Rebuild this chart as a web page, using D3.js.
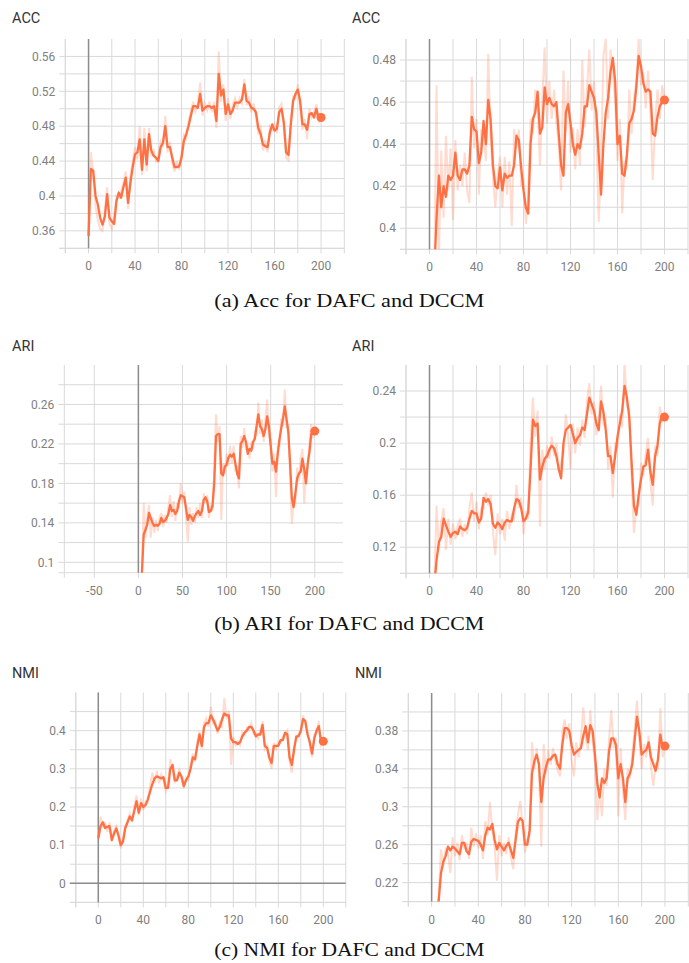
<!DOCTYPE html>
<html>
<head>
<meta charset="utf-8">
<script src="https://cdn.jsdelivr.net/npm/d3@7"></script>
<style>
  body { margin: 0; background: #fff; }
</style>
</head>
<body>
<script>
// epochs sampled every 2 steps, 0..200
var epochs = d3.range(0, 201, 2);

var epochTicks = [0, 40, 80, 120, 160, 200];
var ariLeftXTicks = [-50, 0, 50, 100, 150, 200];
var accLeftYTicks = [0.36, 0.4, 0.44, 0.48, 0.52, 0.56];
var accRightYTicks = [0.4, 0.42, 0.44, 0.46, 0.48];
var ariLeftYTicks = [0.1, 0.14, 0.18, 0.22, 0.26];
var ariRightYTicks = [0.12, 0.16, 0.2, 0.24];
var nmiLeftYTicks = [0, 0.1, 0.2, 0.3, 0.4];
var nmiRightYTicks = [0.22, 0.26, 0.3, 0.34, 0.38];

var captions = ["(a) Acc for DAFC and DCCM", "(b) ARI for DAFC and DCCM", "(c) NMI for DAFC and DCCM"];

// ACC, DAFC (smoothed / raw)
var accDafc = [0.354,0.431,0.429,0.400,0.390,0.375,0.367,0.376,0.402,0.375,0.371,0.368,0.394,0.404,0.398,0.410,0.421,0.392,0.415,0.433,
  0.448,0.450,0.465,0.430,0.465,0.436,0.471,0.452,0.446,0.444,0.440,0.456,0.461,0.480,0.456,0.456,0.444,0.433,0.433,0.434,
  0.444,0.463,0.471,0.480,0.492,0.503,0.503,0.501,0.517,0.498,0.501,0.503,0.503,0.501,0.503,0.486,0.540,0.515,0.522,0.494,
  0.505,0.494,0.498,0.507,0.507,0.507,0.511,0.528,0.509,0.507,0.501,0.500,0.496,0.478,0.471,0.459,0.457,0.456,0.473,0.482,
  0.475,0.477,0.496,0.500,0.484,0.450,0.447,0.482,0.509,0.517,0.522,0.509,0.482,0.482,0.476,0.494,0.495,0.490,0.500,0.488,0.490];
var accDafcRaw = [0.354,0.450,0.425,0.388,0.372,0.362,0.360,0.383,0.410,0.368,0.362,0.376,0.400,0.398,0.405,0.415,0.428,0.385,0.424,0.440,
  0.456,0.442,0.480,0.424,0.478,0.428,0.478,0.446,0.452,0.440,0.446,0.462,0.456,0.492,0.450,0.462,0.438,0.428,0.440,0.430,
  0.450,0.470,0.466,0.486,0.498,0.508,0.497,0.506,0.530,0.492,0.506,0.498,0.508,0.496,0.508,0.478,0.566,0.508,0.528,0.486,
  0.512,0.488,0.504,0.512,0.502,0.512,0.506,0.534,0.504,0.514,0.496,0.506,0.490,0.472,0.478,0.452,0.464,0.450,0.480,0.476,
  0.482,0.472,0.502,0.506,0.478,0.444,0.441,0.488,0.514,0.512,0.528,0.503,0.476,0.488,0.465,0.500,0.490,0.496,0.505,0.484,0.492];

// ACC, DCCM
var accDccm = [0.360,0.365,0.378,0.405,0.425,0.410,0.420,0.415,0.425,0.423,0.425,0.436,0.425,0.423,0.428,0.428,0.426,0.430,0.453,0.447,
  0.446,0.431,0.436,0.451,0.440,0.461,0.452,0.430,0.420,0.419,0.429,0.418,0.426,0.424,0.425,0.425,0.430,0.444,0.442,0.429,
  0.418,0.410,0.407,0.440,0.452,0.455,0.465,0.445,0.448,0.467,0.459,0.462,0.459,0.458,0.460,0.445,0.430,0.425,0.455,0.459,
  0.450,0.440,0.435,0.440,0.438,0.445,0.458,0.458,0.468,0.465,0.462,0.455,0.435,0.416,0.440,0.455,0.462,0.474,0.481,0.470,
  0.440,0.444,0.426,0.425,0.435,0.450,0.452,0.456,0.467,0.482,0.477,0.469,0.465,0.466,0.465,0.445,0.444,0.453,0.458,0.460,0.461];
var accDccmRaw = [0.355,0.360,0.370,0.468,0.385,0.437,0.405,0.444,0.418,0.438,0.404,0.442,0.418,0.430,0.420,0.436,0.418,0.412,0.472,0.438,
  0.452,0.416,0.447,0.444,0.432,0.483,0.444,0.424,0.410,0.425,0.434,0.410,0.434,0.416,0.432,0.401,0.447,0.438,0.447,0.420,
  0.424,0.402,0.414,0.452,0.445,0.466,0.458,0.430,0.462,0.486,0.450,0.470,0.452,0.466,0.450,0.440,0.418,0.475,0.446,0.470,
  0.436,0.448,0.428,0.447,0.430,0.480,0.448,0.466,0.485,0.456,0.470,0.445,0.403,0.430,0.482,0.490,0.452,0.485,0.475,0.460,
  0.432,0.452,0.407,0.432,0.428,0.466,0.445,0.462,0.470,0.490,0.468,0.474,0.457,0.475,0.455,0.423,0.450,0.466,0.452,0.468,0.461];

// ARI, DAFC
var ariDafc = [0.070,0.080,0.089,0.128,0.133,0.138,0.150,0.145,0.140,0.137,0.138,0.137,0.139,0.145,0.141,0.142,0.145,0.149,0.158,0.152,
  0.153,0.149,0.152,0.162,0.168,0.167,0.166,0.155,0.143,0.148,0.146,0.142,0.147,0.150,0.152,0.148,0.152,0.163,0.166,0.162,
  0.151,0.152,0.157,0.180,0.228,0.230,0.230,0.190,0.188,0.197,0.199,0.206,0.209,0.207,0.210,0.200,0.190,0.185,0.220,0.223,
  0.228,0.222,0.210,0.215,0.213,0.222,0.225,0.238,0.250,0.238,0.235,0.228,0.235,0.248,0.238,0.218,0.200,0.202,0.192,0.210,
  0.225,0.236,0.246,0.258,0.245,0.232,0.200,0.165,0.156,0.170,0.185,0.190,0.192,0.205,0.195,0.180,0.200,0.212,0.230,0.232,0.233];
var ariDafcRaw = [0.070,0.080,0.090,0.160,0.125,0.146,0.158,0.125,0.146,0.130,0.143,0.132,0.145,0.150,0.136,0.148,0.140,0.156,0.168,0.146,
  0.162,0.142,0.160,0.155,0.180,0.160,0.172,0.148,0.121,0.156,0.138,0.150,0.140,0.156,0.145,0.160,0.145,0.170,0.160,0.168,
  0.145,0.158,0.152,0.195,0.250,0.222,0.238,0.143,0.200,0.190,0.210,0.198,0.218,0.200,0.218,0.192,0.198,0.175,0.228,0.216,
  0.236,0.214,0.218,0.205,0.222,0.215,0.232,0.230,0.262,0.230,0.245,0.222,0.244,0.265,0.228,0.225,0.192,0.210,0.166,0.218,
  0.218,0.246,0.238,0.275,0.236,0.240,0.188,0.139,0.165,0.162,0.196,0.182,0.205,0.215,0.160,0.190,0.196,0.222,0.240,0.226,0.233];

// ARI, DCCM
var ariDccm = [0.060,0.070,0.090,0.110,0.124,0.128,0.142,0.137,0.132,0.128,0.131,0.132,0.130,0.136,0.134,0.133,0.135,0.142,0.148,0.146,
  0.146,0.139,0.142,0.158,0.155,0.157,0.153,0.138,0.135,0.139,0.137,0.134,0.139,0.141,0.140,0.140,0.150,0.157,0.156,0.150,
  0.140,0.142,0.147,0.180,0.218,0.213,0.215,0.172,0.182,0.188,0.190,0.195,0.198,0.196,0.190,0.180,0.173,0.200,0.210,0.212,
  0.214,0.207,0.200,0.204,0.206,0.212,0.210,0.222,0.235,0.230,0.225,0.215,0.210,0.232,0.224,0.210,0.190,0.190,0.177,0.190,
  0.205,0.215,0.225,0.244,0.235,0.220,0.185,0.152,0.145,0.160,0.172,0.182,0.183,0.195,0.178,0.168,0.190,0.198,0.215,0.222,0.220];
var ariDccmRaw = [0.060,0.070,0.090,0.152,0.118,0.140,0.150,0.118,0.142,0.122,0.138,0.126,0.137,0.142,0.128,0.138,0.130,0.150,0.162,0.140,
  0.155,0.134,0.150,0.150,0.162,0.152,0.160,0.132,0.114,0.146,0.130,0.142,0.125,0.148,0.134,0.145,0.142,0.168,0.150,0.158,
  0.130,0.148,0.142,0.200,0.235,0.205,0.225,0.136,0.195,0.180,0.198,0.188,0.205,0.190,0.200,0.178,0.185,0.192,0.222,0.205,
  0.180,0.215,0.192,0.212,0.198,0.218,0.204,0.232,0.246,0.222,0.232,0.206,0.218,0.244,0.215,0.218,0.180,0.198,0.158,0.200,
  0.196,0.222,0.212,0.262,0.228,0.226,0.172,0.131,0.150,0.152,0.185,0.175,0.192,0.204,0.170,0.152,0.198,0.190,0.228,0.216,0.222];

// NMI, DAFC
var nmiDafc = [0.118,0.150,0.160,0.145,0.148,0.150,0.113,0.130,0.144,0.125,0.100,0.110,0.145,0.160,0.175,0.165,0.190,0.215,0.185,0.210,
  0.200,0.205,0.220,0.240,0.260,0.275,0.280,0.278,0.275,0.278,0.250,0.250,0.300,0.310,0.270,0.270,0.290,0.280,0.255,0.270,
  0.280,0.300,0.330,0.325,0.360,0.390,0.360,0.410,0.420,0.420,0.440,0.430,0.415,0.400,0.410,0.430,0.445,0.440,0.440,0.380,
  0.370,0.370,0.365,0.370,0.385,0.395,0.400,0.410,0.410,0.400,0.385,0.390,0.390,0.415,0.360,0.355,0.330,0.315,0.360,0.360,
  0.360,0.375,0.375,0.395,0.390,0.330,0.310,0.350,0.385,0.385,0.400,0.430,0.425,0.390,0.370,0.340,0.380,0.400,0.412,0.370,0.372];
var nmiDafcRaw = [0.115,0.175,0.150,0.158,0.135,0.160,0.110,0.138,0.150,0.118,0.092,0.120,0.150,0.165,0.182,0.160,0.200,0.230,0.178,0.222,
  0.192,0.215,0.212,0.255,0.290,0.262,0.295,0.262,0.285,0.268,0.242,0.258,0.325,0.302,0.262,0.282,0.298,0.272,0.248,0.278,
  0.272,0.310,0.340,0.318,0.372,0.398,0.352,0.420,0.432,0.410,0.463,0.420,0.425,0.392,0.420,0.410,0.485,0.430,0.452,0.310,
  0.385,0.362,0.372,0.362,0.395,0.388,0.408,0.402,0.420,0.392,0.392,0.380,0.400,0.425,0.352,0.362,0.322,0.300,0.368,0.352,
  0.370,0.368,0.385,0.388,0.400,0.320,0.290,0.358,0.378,0.392,0.395,0.440,0.418,0.398,0.362,0.330,0.388,0.395,0.425,0.362,0.375];

// NMI, DCCM
var nmiDccm = [0.170,0.180,0.190,0.200,0.230,0.242,0.248,0.258,0.254,0.258,0.256,0.253,0.250,0.262,0.262,0.253,0.250,0.263,0.266,0.265,
  0.264,0.260,0.254,0.270,0.278,0.276,0.282,0.265,0.255,0.262,0.258,0.254,0.259,0.262,0.254,0.246,0.265,0.284,0.288,0.285,
  0.260,0.260,0.275,0.335,0.348,0.355,0.345,0.305,0.330,0.342,0.350,0.350,0.354,0.355,0.345,0.340,0.365,0.383,0.383,0.380,
  0.365,0.355,0.358,0.360,0.362,0.375,0.385,0.368,0.386,0.380,0.355,0.325,0.310,0.330,0.325,0.330,0.358,0.372,0.372,0.365,
  0.330,0.345,0.330,0.305,0.330,0.335,0.345,0.370,0.395,0.380,0.355,0.358,0.360,0.368,0.352,0.345,0.338,0.350,0.376,0.362,0.364];
var nmiDccmRaw = [0.170,0.180,0.190,0.205,0.255,0.238,0.255,0.252,0.230,0.268,0.248,0.262,0.244,0.270,0.255,0.262,0.245,0.278,0.258,0.272,
  0.256,0.270,0.245,0.285,0.270,0.305,0.275,0.258,0.222,0.270,0.248,0.262,0.250,0.268,0.246,0.234,0.275,0.292,0.306,0.280,
  0.252,0.266,0.270,0.368,0.340,0.362,0.340,0.258,0.366,0.335,0.360,0.344,0.362,0.348,0.338,0.332,0.380,0.392,0.372,0.388,
  0.348,0.332,0.368,0.352,0.372,0.405,0.372,0.360,0.402,0.370,0.345,0.286,0.318,0.290,0.340,0.322,0.370,0.402,0.362,0.372,
  0.290,0.362,0.318,0.286,0.340,0.330,0.356,0.380,0.412,0.372,0.340,0.366,0.352,0.375,0.342,0.322,0.345,0.342,0.404,0.352,0.366];

var W = 689, H = 963;
var orange = "#ff7043";
var gridColor = "#d9d9d9";
var zeroColor = "#8c8c8c";
var tickFont = "Roboto, 'Open Sans', sans-serif";

// grid values every `step` between lo and hi (inclusive)
function steps(lo, hi, step) {
  var out = [];
  for (var v = lo; v <= hi + step / 1000; v += step) out.push(Math.round(v * 1000) / 1000);
  return out;
}

var panels = [
  {title: "ACC", tx: 12, ty: 23, l: 65.3, r: 344.3, t: 39, b: 248.3,
   xDom: [-20, 220], yDom: [0.34, 0.58], xTicks: epochTicks, xGrid: steps(-20, 220, 20),
   yTicks: accLeftYTicks, yGrid: steps(0.34, 0.56, 0.02), smooth: accDafc, raw: accDafcRaw},
  {title: "ACC", tx: 352, ty: 23, l: 406, r: 688, t: 39, b: 249.3,
   xDom: [-20, 220], yDom: [0.39, 0.49], xTicks: epochTicks, xGrid: steps(-20, 220, 20),
   yTicks: accRightYTicks, yGrid: steps(0.39, 0.48, 0.01), smooth: accDccm, raw: accDccmRaw},
  {title: "ARI", tx: 12, ty: 350.5, l: 64.3, r: 343, t: 365, b: 572.7,
   xDom: [-84, 232], yDom: [0.0895, 0.30], xTicks: ariLeftXTicks, xGrid: steps(-50, 200, 50),
   yTicks: ariLeftYTicks, yGrid: steps(0.10, 0.28, 0.02), smooth: ariDafc, raw: ariDafcRaw},
  {title: "ARI", tx: 352, ty: 350.5, l: 406, r: 688, t: 365, b: 573.3,
   xDom: [-20, 220], yDom: [0.10, 0.26], xTicks: epochTicks, xGrid: steps(-20, 220, 20),
   yTicks: ariRightYTicks, yGrid: steps(0.10, 0.24, 0.02), smooth: ariDccm, raw: ariDccmRaw},
  {title: "NMI", tx: 12, ty: 678, l: 75.8, r: 345.8, t: 692.5, b: 902.4,
   xDom: [-20, 220], yDom: [-0.05, 0.5], xTicks: epochTicks, xGrid: steps(-20, 220, 20),
   yTicks: nmiLeftYTicks, yGrid: steps(-0.05, 0.45, 0.05), smooth: nmiDafc, raw: nmiDafcRaw, zeroY: true},
  {title: "NMI", tx: 355, ty: 678, l: 408.3, r: 688.3, t: 693, b: 901.6,
   xDom: [-20, 220], yDom: [0.20, 0.42], xTicks: epochTicks, xGrid: steps(-20, 220, 20),
   yTicks: nmiRightYTicks, yGrid: steps(0.20, 0.40, 0.02), smooth: nmiDccm, raw: nmiDccmRaw}
];

var svg = d3.select("body").append("svg")
  .attr("width", W)
  .attr("height", H)
  .style("display", "block");

panels.forEach(function(p, k) {
  var x = d3.scaleLinear().domain(p.xDom).range([p.l, p.r]);
  var y = d3.scaleLinear().domain(p.yDom).range([p.b, p.t]);
  var g = svg.append("g");

  g.append("text")
    .attr("x", p.tx).attr("y", p.ty)
    .attr("font-family", tickFont)
    .attr("font-size", 14.5)
    .attr("fill", "#333")
    .text(p.title);

  // horizontal grid, sticking out a little on the left
  g.selectAll(".hg").data(p.yGrid).enter().append("line")
    .attr("x1", p.l - 6).attr("x2", p.r)
    .attr("y1", function(d) { return y(d); })
    .attr("y2", function(d) { return y(d); })
    .attr("stroke", gridColor).attr("stroke-width", 1);
  g.append("line")
    .attr("x1", p.l - 6).attr("x2", p.r).attr("y1", p.b).attr("y2", p.b)
    .attr("stroke", gridColor).attr("stroke-width", 1);

  // vertical grid, sticking out below
  g.selectAll(".vg").data(p.xGrid).enter().append("line")
    .attr("x1", function(d) { return x(d); })
    .attr("x2", function(d) { return x(d); })
    .attr("y1", p.t).attr("y2", p.b + 5)
    .attr("stroke", gridColor).attr("stroke-width", 1);
  g.append("line")
    .attr("x1", p.l).attr("x2", p.l).attr("y1", p.t).attr("y2", p.b + 5)
    .attr("stroke", gridColor).attr("stroke-width", 1);

  // zero lines
  g.append("line")
    .attr("x1", x(0)).attr("x2", x(0)).attr("y1", p.t).attr("y2", p.b)
    .attr("stroke", zeroColor).attr("stroke-width", 1.5);
  if (p.zeroY) {
    g.append("line")
      .attr("x1", p.l - 6).attr("x2", p.r).attr("y1", y(0)).attr("y2", y(0))
      .attr("stroke", zeroColor).attr("stroke-width", 1.5);
  }

  // tick labels
  g.selectAll(".yl").data(p.yTicks).enter().append("text")
    .attr("x", p.l - 10)
    .attr("y", function(d) { return y(d); })
    .attr("dy", "0.35em")
    .attr("text-anchor", "end")
    .attr("font-family", tickFont)
    .attr("font-size", 12)
    .attr("fill", "#808080")
    .text(function(d) { return String(+d.toFixed(2)); });
  g.selectAll(".xl").data(p.xTicks).enter().append("text")
    .attr("x", function(d) { return x(d); })
    .attr("y", p.b + 22)
    .attr("text-anchor", "middle")
    .attr("font-family", tickFont)
    .attr("font-size", 12)
    .attr("fill", "#808080")
    .text(function(d) { return d; });

  // series, clipped to the plot box
  svg.append("clipPath").attr("id", "clip" + k)
    .append("rect")
    .attr("x", p.l).attr("y", p.t)
    .attr("width", p.r - p.l).attr("height", p.b - p.t);

  var line = d3.line()
    .x(function(d, i) { return x(epochs[i]); })
    .y(function(d) { return y(d); });

  var lines = g.append("g").attr("clip-path", "url(#clip" + k + ")");
  lines.append("path")
    .datum(p.raw)
    .attr("d", line)
    .attr("fill", "none")
    .attr("stroke", orange)
    .attr("stroke-opacity", 0.25)
    .attr("stroke-width", 2);
  lines.append("path")
    .datum(p.smooth)
    .attr("d", line)
    .attr("fill", "none")
    .attr("stroke", orange)
    .attr("stroke-width", 2.3)
    .attr("stroke-linejoin", "round");

  var last = p.smooth.length - 1;
  g.append("circle")
    .attr("cx", x(epochs[last]))
    .attr("cy", y(p.smooth[last]))
    .attr("r", 4.5)
    .attr("fill", orange);
});

// sub-figure captions
var capY = [307.3, 629.5, 956];
svg.selectAll(".cap").data(captions).enter().append("text")
  .attr("x", 214.3)
  .attr("y", function(d, i) { return capY[i]; })
  .attr("font-family", "'Liberation Serif', 'Times New Roman', serif")
  .attr("font-size", 18)
  .attr("fill", "#111")
  .attr("textLength", 270)
  .attr("lengthAdjust", "spacingAndGlyphs")
  .text(function(d) { return d; });
</script>
</body>
</html>
